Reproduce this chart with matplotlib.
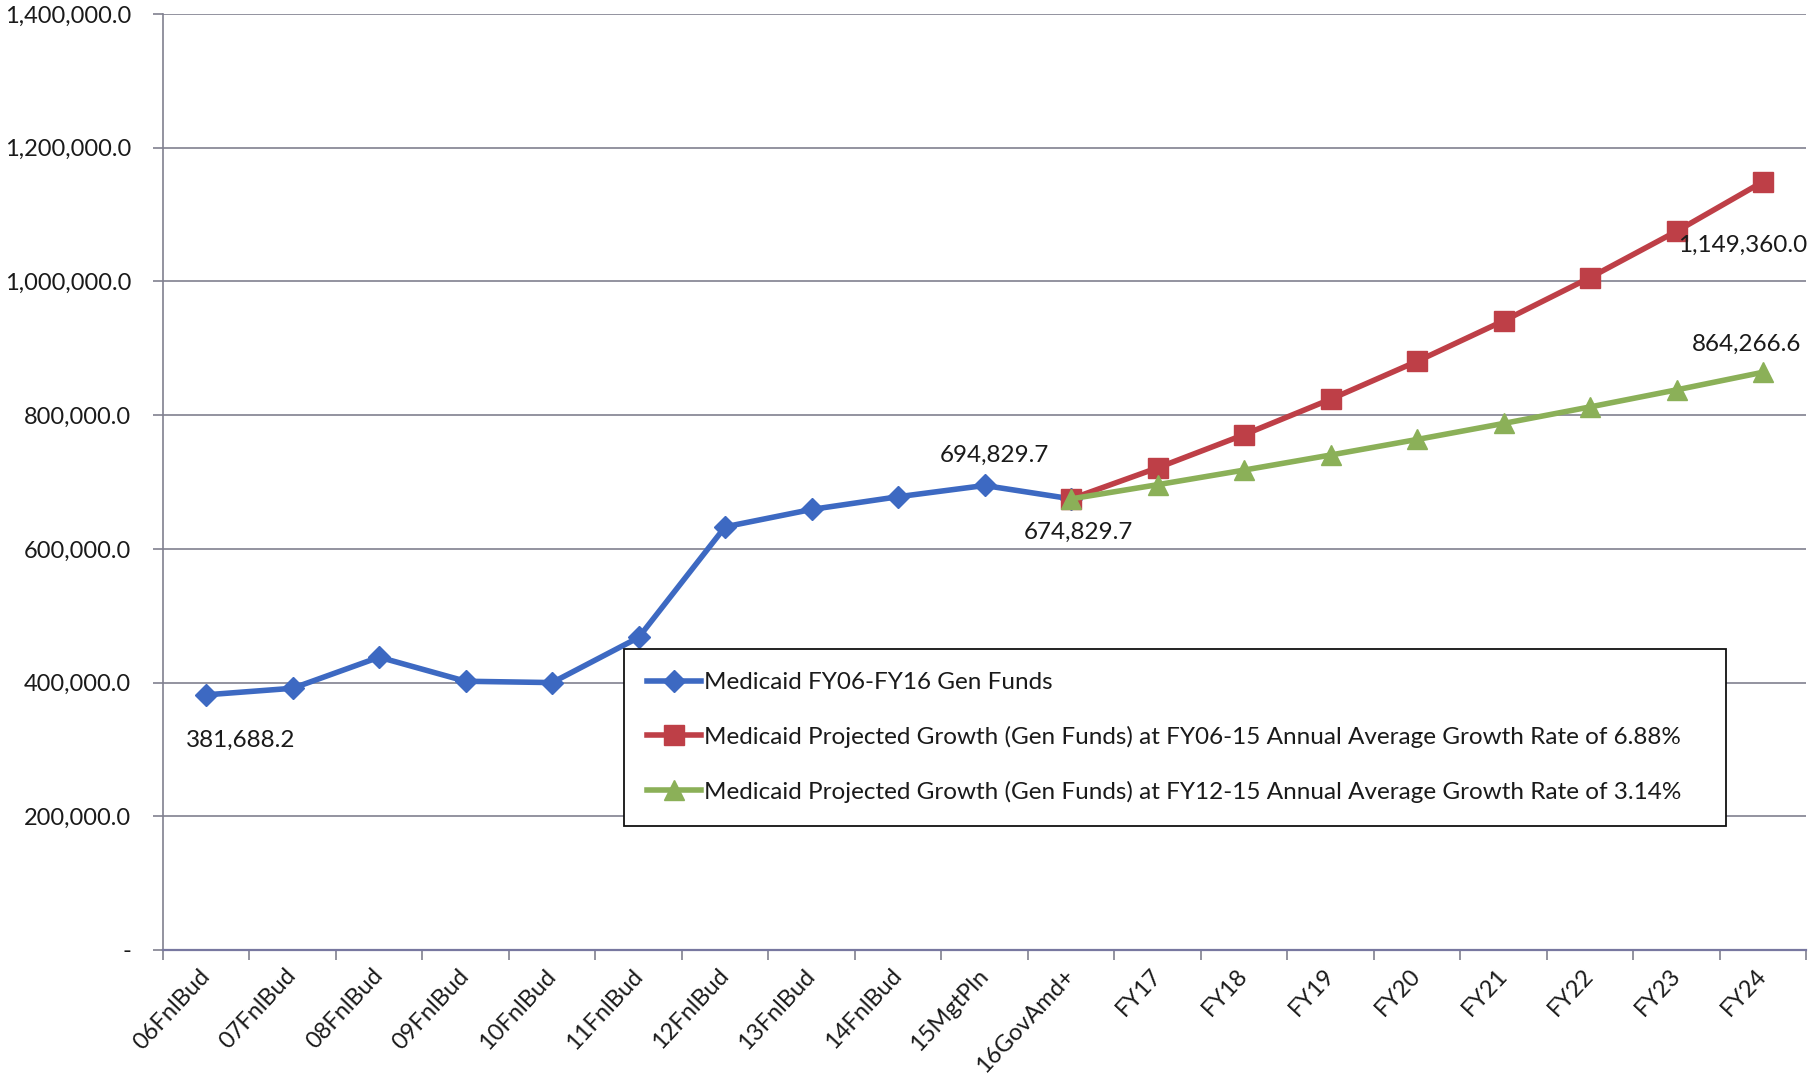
import numpy as np
import matplotlib as mlib
mlib.use('Agg')
import matplotlib.pyplot as plt
from matplotlib.ticker import FuncFormatter, FixedLocator

mlib.rcParams.update({'font.family': ['Lato', 'DejaVu Sans']})
mlib.rcParams.update({'font.size': 17.5})

categories = ['06FnlBud', '07FnlBud', '08FnlBud', '09FnlBud', '10FnlBud', '11FnlBud',
              '12FnlBud', '13FnlBud', '14FnlBud', '15MgtPln', '16GovAmd+',
              'FY17', 'FY18', 'FY19', 'FY20', 'FY21', 'FY22', 'FY23', 'FY24']

# actual general funds, 06FnlBud .. 16GovAmd+
actual = [381688.2, 391500.0, 438000.0, 402000.0, 400000.0, 467500.0,
          633000.0, 659000.0, 678000.0, 694829.7, 674829.7]
# projections, 16GovAmd+ .. FY24
proj_high = [674829.7, 721258.0, 770880.0, 823917.0, 880583.0, 941166.0,
             1005918.0, 1075125.0, 1149360.0]
proj_low = [674829.7, 696019.0, 717874.0, 740415.0, 763664.0, 787643.0,
            812375.0, 837883.0, 864266.6]

labels = ['Medicaid FY06-FY16 Gen Funds',
          'Medicaid Projected Growth (Gen Funds) at FY06-15 Annual Average Growth Rate of 6.88%',
          'Medicaid Projected Growth (Gen Funds) at FY12-15 Annual Average Growth Rate of 3.14%']

BLUE = '#3D69C2'
RED = '#BE3F47'
GREEN = '#8BB058'
GRID = '#80808F'
TXT = '#1a1a1a'

fig = plt.figure(figsize=(18.1, 10.82), dpi=100)
ax = fig.add_axes([0.090, 0.122, 0.908, 0.865])

x_act = np.arange(len(actual))
x_proj = np.arange(len(actual) - 1, len(categories))

ax.plot(x_act, actual, color=BLUE, lw=4, marker='D', ms=11, label=labels[0], zorder=3)
ax.plot(x_proj, proj_high, color=RED, lw=4, marker='s', ms=14, label=labels[1], zorder=4)
ax.plot(x_proj, proj_low, color=GREEN, lw=4, marker='^', ms=14, label=labels[2], zorder=5)

ax.set_xlim(-0.5, len(categories) - 0.5)
ax.set_ylim(0, 1400000)
ax.set_yticks(np.arange(0, 1400001, 200000))
ax.yaxis.set_major_formatter(FuncFormatter(lambda v, p: '-' if v == 0 else '{:,.1f}'.format(v)))
ax.grid(axis='y', color=GRID, lw=1.2, zorder=0)
ax.set_axisbelow(True)

# category ticks on boundaries, labels in the middle
ax.xaxis.set_major_locator(FixedLocator(np.arange(-0.5, len(categories), 1.0)))
ax.xaxis.set_major_formatter(FuncFormatter(lambda v, p: ''))
ax.set_xticks(np.arange(len(categories)), minor=True)
ax.set_xticklabels(categories, minor=True, rotation=47, ha='right', va='center',
                   rotation_mode='anchor', color=TXT, fontsize=17)
ax.tick_params(axis='x', which='minor', length=0, pad=16)
ax.tick_params(axis='x', which='major', length=7, width=1.2, color=GRID)
ax.tick_params(axis='y', length=7, width=1.2, color=GRID, labelcolor=TXT,
               labelsize=17, pad=16)

for side in ['top', 'right']:
    ax.spines[side].set_visible(False)
ax.spines['left'].set_color(GRID)
ax.spines['left'].set_linewidth(1.2)
ax.spines['bottom'].set_color('#7878A0')
ax.spines['bottom'].set_linewidth(1.6)

# value labels
ann = [(0, actual[0], (25, -33)),
       (9, actual[9], (7, 22)),
       (10, actual[10], (5, -24)),
       (18, proj_high[-1], (-15, -46)),
       (18, proj_low[-1], (-12, 20))]
for xi, v, off in ann:
    ax.annotate('{:,.1f}'.format(v), (xi, v), xytext=off, textcoords='offset points',
                ha='center', va='center', color=TXT, fontsize=17.5, zorder=6)

leg = ax.legend(loc='lower left', bbox_to_anchor=(0.2806, 0.1325, 0.6707, 0.192),
                mode='expand', frameon=True, fancybox=False, framealpha=1,
                edgecolor='#111111', handlelength=2.2, handletextpad=0.15,
                labelspacing=1.35, borderpad=0.95, fontsize=17.5, borderaxespad=0)
leg.get_frame().set_linewidth(1.3)
for t in leg.get_texts():
    t.set_color(TXT)

fig.savefig('out.png', dpi=100)
plt.close(fig)
